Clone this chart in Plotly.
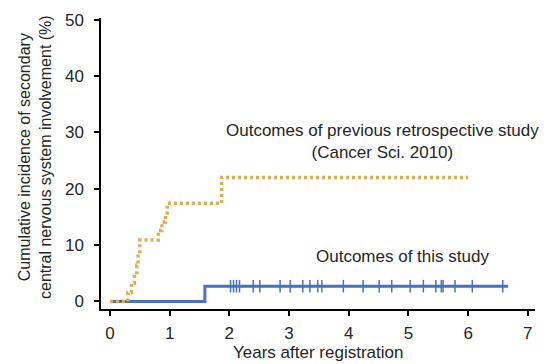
import plotly.graph_objects as go

# Previous retrospective study (Cancer Sci. 2010) - step curve
prev_t = [0.0, 0.30, 0.36, 0.41, 0.45, 0.47, 0.50, 0.81, 0.87, 0.93, 0.96, 1.87, 6.0]
prev_v = [0.0, 1.6, 3.2, 4.8, 6.4, 8.5, 10.9, 12.6, 14.1, 15.7, 17.4, 22.0, 22.0]

# This study - step curve
this_t = [0.0, 1.59, 6.67]
this_v = [0.0, 2.7, 2.7]

# Censored observations (this study)
cens_t = [2.02, 2.07, 2.12, 2.17, 2.40, 2.51, 2.85, 3.02, 3.23, 3.35, 3.48, 3.55,
          3.91, 4.24, 4.51, 4.72, 5.03, 5.25, 5.46, 5.55, 5.58, 5.78, 6.07, 6.58]
cens_v = [2.7] * len(cens_t)

x_ticks = [0, 1, 2, 3, 4, 5, 6, 7]
y_ticks = [0, 10, 20, 30, 40, 50]

GOLD = "#DDAE58"
BLUE = "#4472C4"
FONT = "Liberation Sans, Arial, sans-serif"
TXT = "#262626"

W, H = 547, 364
ML, MR, MT, MB = 101, 12, 18, 55
PW, PH = W - ML - MR, H - MT - MB

fig = go.Figure()
fig.add_trace(go.Scatter(x=this_t, y=this_v, mode="lines", line_shape="hv",
                         line=dict(color=BLUE, width=3), hoverinfo="skip"))
fig.add_trace(go.Scatter(x=prev_t, y=prev_v, mode="lines", line_shape="hv",
                         line=dict(color=GOLD, width=3.5, dash="3px,3px"), hoverinfo="skip"))
fig.add_trace(go.Scatter(x=cens_t, y=cens_v, mode="markers",
                         marker=dict(symbol="line-ns", size=9,
                                     line=dict(color=BLUE, width=1.5)),
                         hoverinfo="skip"))

fig.add_annotation(x=4.57, y=28.3, xref="x", yref="y",
                   text="Outcomes of previous retrospective study<br>(Cancer Sci. 2010)",
                   showarrow=False, font=dict(size=17, color=TXT, family=FONT),
                   align="center", xanchor="center", yanchor="middle")
fig.add_annotation(x=4.9, y=8.0, xref="x", yref="y",
                   text="Outcomes of this study",
                   showarrow=False, font=dict(size=17, color=TXT, family=FONT),
                   xanchor="center", yanchor="middle")
# y-axis title
fig.add_annotation(xref="paper", yref="paper",
                   x=(35 - ML) / PW, y=1 - (157 - MT) / PH,
                   text="Cumulative incidence of secondary<br>central nervous system involvement (%)",
                   showarrow=False, textangle=-90, xanchor="center", yanchor="middle",
                   font=dict(size=16, color=TXT, family=FONT))
# x-axis title
fig.add_annotation(xref="paper", yref="paper",
                   x=(318 - ML) / PW, y=1 - (352 - MT) / PH,
                   text="Years after registration",
                   showarrow=False, xanchor="center", yanchor="middle",
                   font=dict(size=17, color=TXT, family=FONT))

fig.update_layout(
    width=W, height=H,
    margin=dict(l=ML, r=MR, t=MT, b=MB, autoexpand=False),
    plot_bgcolor="white", paper_bgcolor="white",
    showlegend=False,
    font=dict(family=FONT, size=17, color=TXT),
    xaxis=dict(range=[-0.15, 7.12], tickvals=x_ticks, showgrid=False, zeroline=False,
               showline=True, linecolor="black", linewidth=1.5, automargin=False,
               ticks="outside", ticklen=5, tickwidth=1.5, tickcolor="black",
               ticklabelstandoff=3),
    yaxis=dict(range=[-1.35, 50.3], tickvals=y_ticks, showgrid=False, zeroline=False,
               showline=True, linecolor="black", linewidth=1.5, automargin=False,
               ticks="outside", ticklen=5, tickwidth=1.5, tickcolor="black",
               ticklabelstandoff=7),
)

fig.write_html("out.html", config={"displayModeBar": False},
               post_script="document.body.style.margin='0';")
